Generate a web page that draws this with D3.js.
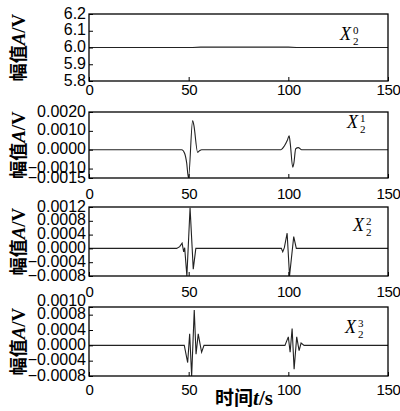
<!DOCTYPE html>
<html>
<head>
<meta charset="utf-8">
<script src="https://cdn.jsdelivr.net/npm/d3@7"></script>
<style>
  body { margin: 0; background: #fff; }
  svg { display: block; }
</style>
</head>
<body>
<div id="chart-area"></div>
<script>
// time axis
const xTicks = [0, 50, 100, 150];

// X_2^0 (approx flat at 6 V)
const x0Time = [0, 52, 56, 100, 104, 150];
const x0Vals = [6.0, 6.0, 6.002, 6.002, 6.0, 6.0];

// X_2^1
const x1Time = [0, 46.5, 48, 49, 49.9, 52, 52.6, 54.5, 55.5, 56.5,
                96.3, 98, 99.5, 100.4, 101, 102.2, 102.8, 103.7, 105, 106.7, 150];
const x1Vals = [0, 0, -0.0002, -0.0007, -0.0015, 0.00155, 0.0013, -0.00014, -0.00005, 0,
                0, 0.0002, 0.0005, 0.00074, 0.0003, -0.00093, -0.0007, 0.00005, 0.00011, 0, 0];

// X_2^2
const x2Time = [0, 44, 45.5, 46.7, 47.5, 48, 49.1, 50.7, 52.3, 53.6,
                95, 96.5, 97.2, 98, 99.4, 100.6, 102.7, 104, 150];
const x2Vals = [0, 0, 0.00005, 0.00015, -0.0001, 0.00002, -0.0008, 0.00118, -0.0006, 0,
                0, 0, -0.0001, 0.00002, 0.00044, -0.0008, 0.00034, 0, 0];

// X_2^3
const x3Time = [0, 47.8, 49.5, 50.5, 51.5, 52.8, 53.7, 54.8, 55.7, 56.5, 57.7,
                98.3, 100, 100.9, 101.9, 102.9, 104.2, 105.4, 106.4, 107.9, 150];
const x3Vals = [0, 0, -0.00045, 0.0003, -0.0008, 0.00092, -0.00023, 0.0003, 0.00004, -0.00018, 0,
                0, 0.00022, -0.00018, 0.00044, -0.00062, 0.00022, -0.00014, 0.00006, 0, 0];

// y axis setup per panel
const yDomains = [[5.8, 6.2], [-0.0015, 0.002], [-0.0008, 0.0012], [-0.0008, 0.001]];
const yTicks = [
    [5.8, 5.9, 6.0, 6.1, 6.2],
    [-0.0015, -0.001, 0, 0.001, 0.002],
    [-0.0008, -0.0004, 0, 0.0004, 0.0008, 0.0012],
    [-0.0008, -0.0004, 0, 0.0004, 0.0008, 0.001]
];
const yFormats = [".1f", ".4f", ".4f", ".4f"];
const superscripts = ["0", "1", "2", "3"];

const series = [
    {t: x0Time, v: x0Vals},
    {t: x1Time, v: x1Vals},
    {t: x2Time, v: x2Vals},
    {t: x3Time, v: x3Vals}
];

// layout
const left = 89, right = 388;
const panels = [
    {top: 14, bottom: 81, xPad: 3.5, lx: 340, ly: 40, curve: d3.curveLinear},
    {top: 112, bottom: 178, xPad: 10, lx: 347, ly: 128, curve: d3.curveMonotoneX},
    {top: 207, bottom: 276, xPad: 10, lx: 353, ly: 231, curve: d3.curveLinear},
    {top: 307, bottom: 376, xPad: 8, lx: 345, ly: 333, curve: d3.curveLinear}
];

const svg = d3.select("#chart-area").append("svg")
    .attr("width", 400)
    .attr("height", 411);

const xScale = d3.scaleLinear().domain([0, 150]).range([left, right]);

panels.forEach((p, i) => {
    const yScale = d3.scaleLinear().domain(yDomains[i]).range([p.bottom, p.top]);
    const g = svg.append("g");

    g.append("clipPath").attr("id", "clip" + i)
        .append("rect")
        .attr("x", left).attr("y", p.top)
        .attr("width", right - left).attr("height", p.bottom - p.top);

    // waveform
    const pts = series[i].t.map((t, k) => [t, series[i].v[k]]);
    const line = d3.line()
        .x(d => xScale(d[0]))
        .y(d => yScale(d[1]))
        .curve(p.curve);
    g.append("path")
        .datum(pts)
        .attr("clip-path", "url(#clip" + i + ")")
        .attr("d", line)
        .attr("fill", "none")
        .attr("stroke", "#222")
        .attr("stroke-width", 1.1);

    // y axis
    const yAxis = g.append("g")
        .attr("transform", "translate(" + left + ",0)")
        .call(d3.axisLeft(yScale)
            .tickValues(yTicks[i])
            .tickFormat(d3.format(yFormats[i]))
            .tickSize(-4)
            .tickPadding(3));
    yAxis.select(".domain").remove();
    yAxis.selectAll(".tick text")
        .style("font-size", "16px")
        .attr("dy", "0.25em");
    // top label of the last panel sits a bit higher, as in the original
    if (i === 3) {
        yAxis.selectAll(".tick text").filter(d => d === 0.001).attr("dy", "-0.1em");
    }

    // x axis
    const xAxis = g.append("g")
        .attr("transform", "translate(0," + p.bottom + ")")
        .call(d3.axisBottom(xScale)
            .tickValues(xTicks)
            .tickFormat(d3.format("d"))
            .tickSize(-4)
            .tickPadding(p.xPad));
    xAxis.select(".domain").remove();
    xAxis.selectAll(".tick text")
        .style("font-size", "15px")
        .style("letter-spacing", "-0.4px");

    g.selectAll(".tick line").attr("stroke", "#000").attr("stroke-width", 1);
    g.selectAll(".tick text")
        .attr("fill", "#000")
        .style("font-family", "'Liberation Sans', Arial, sans-serif");

    // frame
    g.append("rect")
        .attr("x", left).attr("y", p.top)
        .attr("width", right - left).attr("height", p.bottom - p.top)
        .attr("fill", "none")
        .attr("stroke", "#000")
        .attr("stroke-width", 1.3);

    // series label X_2^n
    const lab = g.append("g").style("font-family", "'Liberation Serif', 'Times New Roman', serif");
    lab.append("text")
        .attr("x", p.lx).attr("y", p.ly)
        .style("font-style", "italic")
        .style("font-size", "18px")
        .text("X");
    lab.append("text")
        .attr("x", p.lx + 13).attr("y", p.ly - 6)
        .style("font-size", "11px")
        .text(superscripts[i]);
    lab.append("text")
        .attr("x", p.lx + 13).attr("y", p.ly + 5)
        .style("font-size", "11px")
        .text("2");

    // y axis title
    const cy = (p.top + p.bottom) / 2;
    const yt = g.append("text")
        .attr("transform", "translate(25," + cy + ") rotate(-90)")
        .attr("text-anchor", "middle")
        .style("font-size", "18px")
        .style("font-weight", "bold");
    yt.append("tspan").style("font-family", "'Noto Sans CJK SC', sans-serif").text("幅值");
    yt.append("tspan").style("font-family", "'Liberation Serif', serif").style("font-style", "italic").style("font-size", "19px").text("A");
    yt.append("tspan").style("font-family", "'Liberation Serif', serif").style("font-size", "19px").text("/V");
});

// x axis title
const xt = svg.append("text")
    .attr("x", 244).attr("y", 405)
    .attr("text-anchor", "middle")
    .style("font-size", "19px")
    .style("font-weight", "bold");
xt.append("tspan").style("font-family", "'Noto Sans CJK SC', sans-serif").text("时间");
xt.append("tspan").style("font-family", "'Liberation Serif', serif").style("font-style", "italic").style("font-size", "21px").text("t");
xt.append("tspan").style("font-family", "'Liberation Serif', serif").style("font-size", "21px").text("/s");
</script>
</body>
</html>
